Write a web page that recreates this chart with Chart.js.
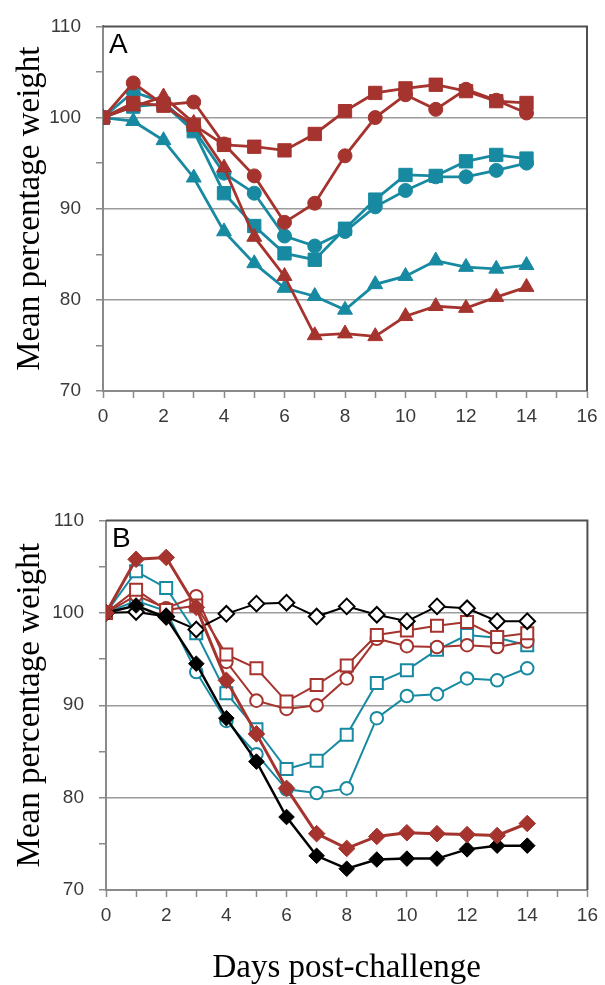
<!DOCTYPE html>
<html>
<head>
<meta charset="utf-8">
<script src="https://cdn.jsdelivr.net/npm/chart.js@4.4.1/dist/chart.umd.min.js"></script>
<style>
  html, body { margin: 0; padding: 0; background: #fff; }
  #wrap { position: relative; width: 605px; height: 985px; overflow: hidden; }
  canvas { position: absolute; left: 0; }
  #cA { top: 0; }
  #cB { top: 460px; }
</style>
</head>
<body>
<div id="wrap">
  <canvas id="cA" width="605" height="440"></canvas>
  <canvas id="cB" width="605" height="525"></canvas>
</div>
<script>
// ---- Data ----
const days = [0, 1, 2, 3, 4, 5, 6, 7, 8, 9, 10, 11, 12, 13, 14];
const yTickLabels = [70, 80, 90, 100, 110];
const xTickLabels = [0, 2, 4, 6, 8, 10, 12, 14, 16];
const yAxisTitle = 'Mean percentage weight';
const xAxisTitle = 'Days post-challenge';

// Panel A
const aRedSquare    = [100, 101.6, 101.3, 99.2, 97.0, 96.8, 96.4, 98.2, 100.7, 102.7, 103.2, 103.6, 102.9, 101.8, 101.6];
const aRedCircle    = [100, 103.8, 101.4, 101.7, 97.1, 93.6, 88.5, 90.6, 95.8, 100.0, 102.5, 100.9, 103.1, 101.9, 100.5];
const aRedTriangle  = [100, 101.2, 102.3, 99.4, 94.5, 86.9, 82.6, 76.1, 76.3, 76.0, 78.2, 79.3, 79.1, 80.3, 81.4];
const aTealSquare   = [100, 101.2, 101.5, 98.5, 91.7, 88.1, 85.1, 84.4, 87.8, 91.0, 93.7, 93.6, 95.2, 95.9, 95.5];
const aTealCircle   = [100, 102.8, 101.7, 98.7, 93.9, 91.7, 87.0, 85.9, 87.5, 90.2, 92.0, 93.5, 93.5, 94.2, 95.0];
const aTealTriangle = [100, 99.6, 97.5, 93.4, 87.5, 84.0, 81.3, 80.4, 78.9, 81.7, 82.6, 84.3, 83.6, 83.4, 83.8];

// Panel B
const bRedDiamond       = [100, 105.8, 106.0, 100.6, 92.7, 86.9, 81.0, 76.1, 74.5, 75.8, 76.2, 76.1, 76.0, 75.9, 77.2];
const bBlackDiamond     = [100, 100.8, 99.5, 94.5, 88.6, 83.9, 77.9, 73.7, 72.3, 73.3, 73.4, 73.4, 74.4, 74.8, 74.8];
const bBlackOpenDiamond = [100, 100.1, 99.6, 98.2, 99.9, 101.0, 101.1, 99.6, 100.7, 99.8, 99.1, 100.7, 100.5, 99.1, 99.1];
const bRedOpenSquare    = [100, 102.5, 100.3, 100.8, 95.5, 94.0, 90.4, 92.2, 94.3, 97.6, 98.1, 98.6, 99.0, 97.4, 97.8];
const bRedOpenCircle    = [100, 101.9, 100.5, 101.8, 94.7, 90.5, 89.6, 90.0, 92.9, 97.2, 96.4, 96.3, 96.5, 96.3, 96.9];
const bTealOpenSquare   = [100, 104.5, 102.7, 97.8, 91.3, 87.4, 83.1, 84.0, 86.8, 92.4, 93.8, 96.0, 97.6, 97.3, 96.5];
const bTealOpenCircle   = [100, 101.3, 100.2, 93.6, 88.3, 84.7, 80.9, 80.5, 81.0, 88.6, 91.0, 91.2, 92.9, 92.7, 94.0];

// ---- Styles ----
const RED = '#a5332e';
const TEAL = '#178aa2';
const BLACK = '#000000';
const GRID = '#9c9c9c';
const AXIS = '#8a8a8a';
const TICKTXT = '#3a3a3a';

function pts(vals) { return days.map((d, i) => ({ x: d, y: vals[i] })); }

function ds(vals, color, style, radius, filled, lw) {
  return {
    data: pts(vals),
    borderColor: color,
    backgroundColor: color,
    borderWidth: lw,
    pointStyle: style,
    pointRadius: radius,
    pointHoverRadius: radius,
    pointBorderColor: color,
    pointBackgroundColor: filled ? color : '#ffffff',
    pointBorderWidth: filled ? 1 : 2,
    tension: 0,
    fill: false
  };
}

const boxPlugin = {
  id: 'box',
  afterDraw(chart, args, opts) {
    const { ctx, chartArea: { left, top, right, bottom } } = chart;
    ctx.save();
    ctx.strokeStyle = '#505050';
    ctx.lineWidth = 2;
    ctx.beginPath();
    ctx.moveTo(left, top);
    ctx.lineTo(right, top);
    ctx.lineTo(right, bottom);
    ctx.stroke();
    ctx.fillStyle = '#000';
    ctx.font = '28px "Liberation Sans", Arial, sans-serif';
    ctx.textBaseline = 'top';
    ctx.textAlign = 'left';
    ctx.fillText(opts.letter, left + 6, top + 5);
    ctx.restore();
  }
};

function makeOptions(letter, yWidth, xHeight, padTop, padRight, showXTitle) {
  return {
    responsive: false,
    animation: false,
    devicePixelRatio: 1,
    layout: { padding: { left: 0, top: padTop, right: padRight, bottom: 0 } },
    plugins: {
      legend: { display: false },
      tooltip: { enabled: false },
      box: { letter: letter }
    },
    scales: {
      x: {
        type: 'linear',
        min: xTickLabels[0],
        max: xTickLabels[xTickLabels.length - 1],
        ticks: {
          stepSize: 1,
          autoSkip: false,
          maxRotation: 0,
          padding: 7,
          color: TICKTXT,
          font: { family: '"Liberation Sans", Arial, sans-serif', size: 19 },
          callback: v => (xTickLabels.includes(v) ? String(v) : '')
        },
        grid: {
          drawOnChartArea: false,
          drawTicks: true,
          tickLength: 7,
          tickColor: AXIS,
          tickWidth: 1.5
        },
        border: { display: true, color: AXIS, width: 2 },
        title: {
          display: showXTitle,
          text: xAxisTitle,
          color: '#000',
          font: { family: '"Liberation Serif", "Times New Roman", serif', size: 33, lineHeight: 1 },
          padding: { top: 0, bottom: 0 }
        },
        afterFit: s => { s.height = xHeight; }
      },
      y: {
        type: 'linear',
        min: yTickLabels[0],
        max: yTickLabels[yTickLabels.length - 1],
        ticks: {
          stepSize: 5,
          padding: 15,
          color: TICKTXT,
          font: { family: '"Liberation Sans", Arial, sans-serif', size: 19 },
          callback: v => (yTickLabels.includes(v) ? String(v) : '')
        },
        grid: {
          drawOnChartArea: true,
          drawTicks: true,
          tickLength: 7,
          tickColor: AXIS,
          tickWidth: 1.5,
          lineWidth: 1.5,
          color: c => {
            const v = c.tick ? c.tick.value : null;
            return (v !== null && v % 10 === 0 && v !== yTickLabels[0] && v !== yTickLabels[yTickLabels.length - 1]) ? GRID : 'rgba(0,0,0,0)';
          }
        },
        border: { display: true, color: AXIS, width: 2 },
        title: {
          display: true,
          text: yAxisTitle,
          color: '#000',
          font: { family: '"Liberation Serif", "Times New Roman", serif', size: 33, lineHeight: 1 },
          padding: { top: 14, bottom: 0 }
        },
        afterFit: s => { s.width = yWidth; }
      }
    }
  };
}

new Chart(document.getElementById('cA'), {
  type: 'line',
  data: {
    datasets: [
      ds(aRedSquare, RED, 'rect', 9.4, true, 2.8),
      ds(aRedCircle, RED, 'circle', 7, true, 2.8),
      ds(aRedTriangle, RED, 'triangle', 8.6, true, 2.8),
      ds(aTealSquare, TEAL, 'rect', 9.4, true, 2.8),
      ds(aTealCircle, TEAL, 'circle', 7, true, 2.8),
      ds(aTealTriangle, TEAL, 'triangle', 8.6, true, 2.8)
    ]
  },
  options: makeOptions('A', 103, 49, 22, 18, false),
  plugins: [boxPlugin]
});

new Chart(document.getElementById('cB'), {
  type: 'line',
  data: {
    datasets: [
      ds(bRedDiamond, RED, 'rectRot', 8.3, true, 3),
      ds(bBlackDiamond, BLACK, 'rectRot', 7.8, true, 2.5),
      ds(bBlackOpenDiamond, BLACK, 'rectRot', 7.8, false, 2),
      ds(bRedOpenSquare, RED, 'rect', 8.5, false, 2),
      ds(bRedOpenCircle, RED, 'circle', 6.3, false, 2),
      ds(bTealOpenSquare, TEAL, 'rect', 8.5, false, 2),
      ds(bTealOpenCircle, TEAL, 'circle', 6.3, false, 2)
    ]
  },
  options: makeOptions('B', 106, 95, 60.5, 15, true),
  plugins: [boxPlugin]
});
</script>
</body>
</html>
